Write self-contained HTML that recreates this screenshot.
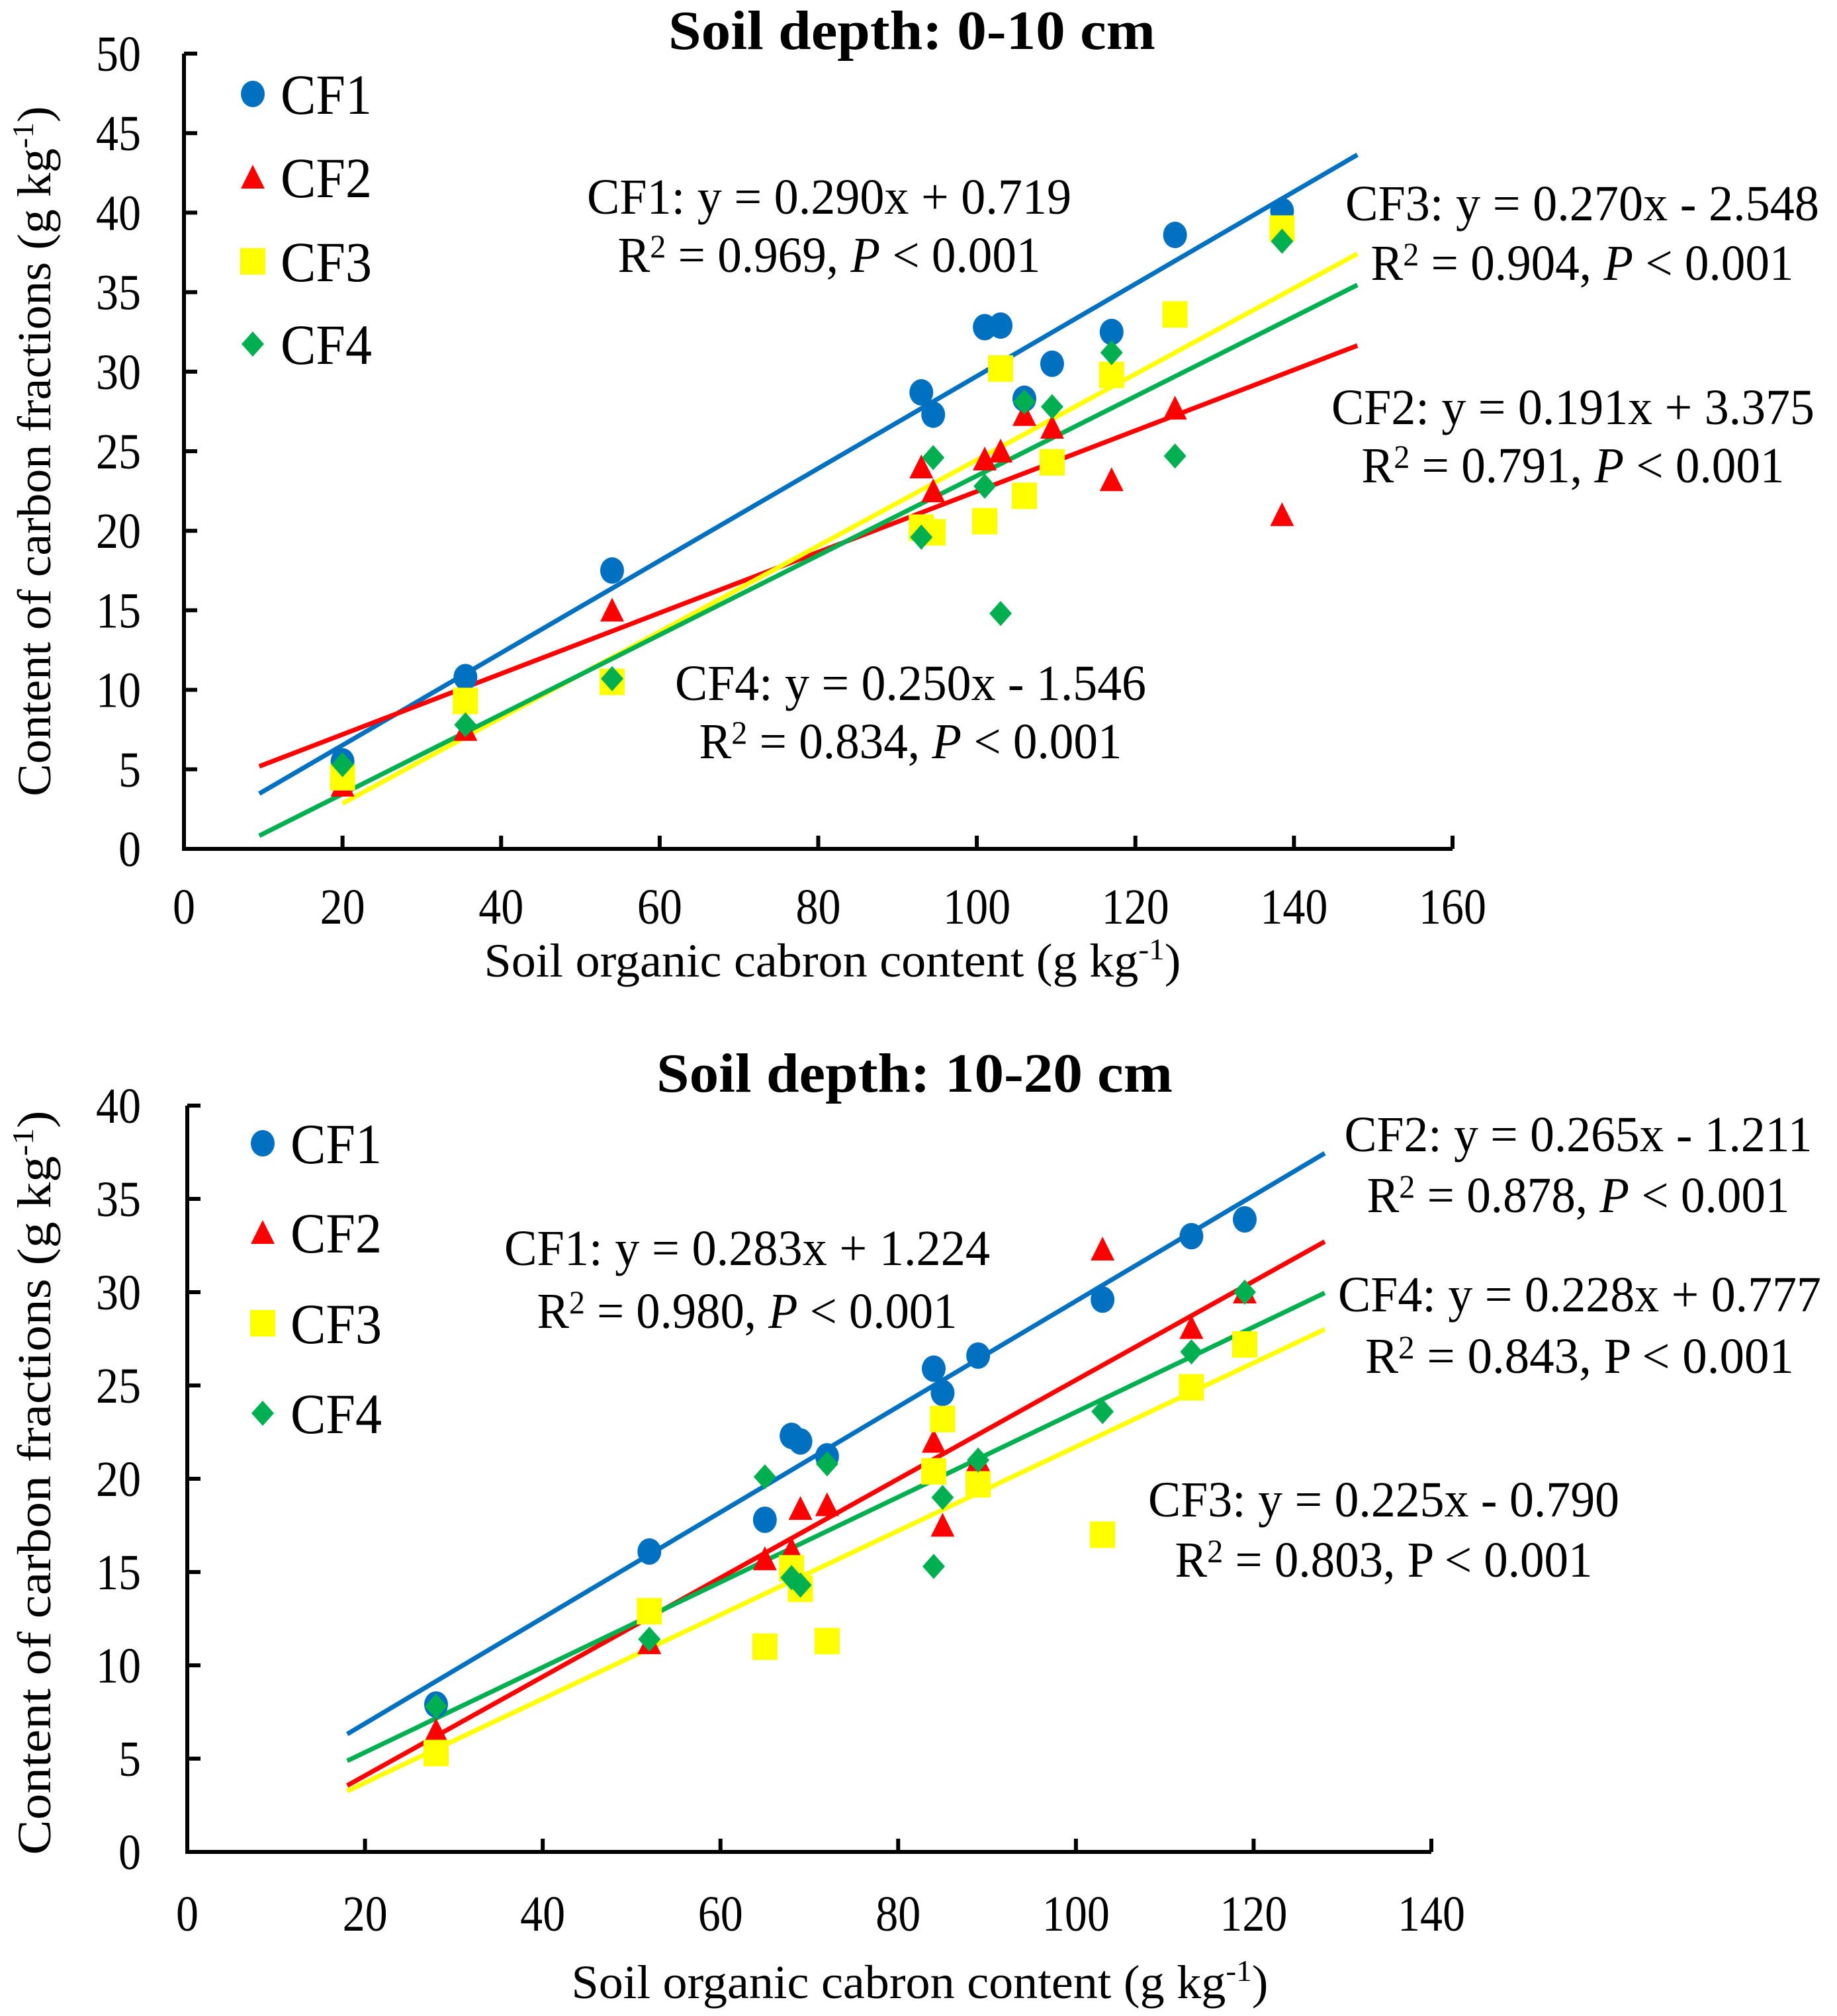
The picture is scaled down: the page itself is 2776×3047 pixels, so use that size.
<!DOCTYPE html>
<html><head><meta charset="utf-8"><style>
html,body{margin:0;padding:0;background:#fff}
svg{display:block;font-family:"Liberation Serif",serif}
</style></head><body>
<svg id="svg" width="2776" height="3047" viewBox="0 0 2776 3047" xmlns="http://www.w3.org/2000/svg"></svg>
<script>
// ---- top panel data (0-10 cm) ----
const topSOC = [20,35.5,54,93,94.5,101,103,106,109.5,117,125,138.5];
const topCF1 = [5.5,10.8,17.5,28.7,27.3,32.8,32.9,28.3,30.5,32.5,38.6,40.1];
const topCF2 = [4,7.5,15,24,22.5,24.5,25,27.3,26.5,23.2,27.7,21];
const topCF3 = [4.5,9.3,10.5,20.2,19.9,20.6,30.2,22.2,24.3,29.8,33.6,39];
const topCF4 = [5.3,7.8,10.7,19.6,24.6,22.8,14.8,28.1,27.8,31.2,24.7,38.2];
const topSlopes = [0.290,0.191,0.270,0.250];
const topIntercepts = [0.719,3.375,-2.548,-1.546];
const topLineFrom = [9.5,9.5,20,9.5];
const topLineTo = [148,148,148,148];
const topXTicks = [0,20,40,60,80,100,120,140,160];
const topYTicks = [0,5,10,15,20,25,30,35,40,45,50];
// ---- bottom panel data (10-20 cm) ----
const botSOC = [28,52,65,68,69,72,84,85,89,103,113,119];
const botCF1 = [7.9,16.1,17.8,22.3,22,21.2,25.9,24.6,26.6,29.6,33,33.9];
const botCF2 = [6.5,11.2,15.7,16.2,18.4,18.6,22,17.5,21,32.3,28.1,30];
const botCF3 = [5.3,12.9,11,15.2,14.1,11.3,20.4,23.2,19.7,17,24.9,27.2];
const botCF4 = [7.8,11.4,20.1,14.7,14.3,20.8,15.3,19,21,23.6,26.8,30];
const botSlopes = [0.283,0.265,0.225,0.228];
const botIntercepts = [1.224,-1.211,-0.790,0.777];
const botLineFrom = [18,18,18,18];
const botLineTo = [128,128,128,128];
const botXTicks = [0,20,40,60,80,100,120,140];
const botYTicks = [0,5,10,15,20,25,30,35,40];

const NS="http://www.w3.org/2000/svg";
const svg=document.getElementById('svg');
const colors=['#0070C0','#FF0000','#FFFF00','#00B050'];
const shapes=['circle','triangle','square','diamond'];
function mk(tag,attrs,parent){const e=document.createElementNS(NS,tag);for(const k in attrs)e.setAttribute(k,attrs[k]);(parent||svg).appendChild(e);return e;}
function txt(str,attrs,parent){const e=mk('text',attrs,parent);e.textContent=str;return e;}
function marker(shape,cx,cy,color,g){
  let e;
  if(shape==='circle'){e=mk('ellipse',{cx:cx,cy:cy,rx:18,ry:20,fill:color},g);}
  else if(shape==='triangle'){e=mk('polygon',{points:`${cx},${cy-19} ${cx+18},${cy+17} ${cx-18},${cy+17}`,fill:color},g);}
  else if(shape==='square'){e=mk('rect',{x:cx-19,y:cy-20,width:38,height:40,fill:color},g);}
  else {e=mk('polygon',{points:`${cx},${cy-19} ${cx+17},${cy} ${cx},${cy+19} ${cx-17},${cy}`,fill:color},g);}
  return e;
}
function panel(cfg){
  const g=mk('g',{});
  
  
  const X=v=>cfg.x0+(v-cfg.xmin)/(cfg.xmax-cfg.xmin)*(cfg.x1-cfg.x0);
  const Y=v=>cfg.y0-(v-cfg.ymin)/(cfg.ymax-cfg.ymin)*(cfg.y0-cfg.y1);
  // axes
  const ax=mk('path',{d:`M${cfg.x0},${cfg.y1} L${cfg.x0},${cfg.y0} L${cfg.x1},${cfg.y0}`,stroke:'#000','stroke-width':6,fill:'none'},g);
  
  
  cfg.yTicks.forEach(t=>{
    const y=Y(t);
    const tk=mk('line',{x1:cfg.x0,x2:cfg.x0+20,y1:y,y2:y,stroke:'#000','stroke-width':6},g);
    
    
    const l=txt(String(t),{x:213,y:y+26,'text-anchor':'end','font-size':76,textLength:34*String(t).length,lengthAdjust:'spacingAndGlyphs'},g);
    
    
  });
  cfg.xTicks.forEach(t=>{
    const x=X(t);
    const tk=mk('line',{x1:x,x2:x,y1:cfg.y0,y2:cfg.y0-20,stroke:'#000','stroke-width':6},g);
    
    
    const l=txt(String(t),{x:x,y:cfg.xLabelY,'text-anchor':'middle','font-size':76,textLength:34*String(t).length,lengthAdjust:'spacingAndGlyphs'},g);
    
    
  });
  // regression lines
  for(let i=0;i<4;i++){
    const a=cfg.from[i],b=cfg.to[i];
    const ln=mk('line',{x1:X(a),y1:Y(cfg.slopes[i]*a+cfg.ints[i]),x2:X(b),y2:Y(cfg.slopes[i]*b+cfg.ints[i]),stroke:colors[i],'stroke-width':7},g);
    
    
  }
  // points
  const order=[0,1,2,3];
  order.forEach(i=>{
    cfg.series[i].forEach((v,j)=>{
      const m=marker(shapes[i],X(cfg.soc[j]),Y(v),colors[i],g);
      
      
    });
  });
  // legend
  for(let i=0;i<4;i++){
    const ly=cfg.legY[i];
    const m=marker(shapes[i],cfg.legX,ly,colors[i],g);
    
    
    const t=txt('CF'+(i+1),{x:cfg.legX+42,y:ly+30,'font-size':86,textLength:138,lengthAdjust:'spacingAndGlyphs'},g);
    
    
  }
  // annotations
  cfg.ann.forEach(a=>{
    const t=mk('text',{x:a[0],y:a[1],'text-anchor':'middle','font-size':76,textLength:a[3],lengthAdjust:'spacingAndGlyphs'},g);
    t.innerHTML=a[2];
    
    
  });
  // title
  const ti=txt(cfg.title,{x:cfg.titleX,y:cfg.titleY,'text-anchor':'middle','font-size':84,'font-weight':'bold',textLength:cfg.titleLen,lengthAdjust:'spacingAndGlyphs'},g);
  
  
  const xt=mk('text',{x:cfg.xtX,y:cfg.xtY,'text-anchor':'middle','font-size':72,textLength:1053,lengthAdjust:'spacingAndGlyphs'},g);
  xt.innerHTML='Soil organic  cabron content (g kg<tspan dy="-26" font-size="46">-1</tspan><tspan dy="26">)</tspan>';
  
  
  const yt=mk('text',{x:0,y:0,'text-anchor':'middle','font-size':72,textLength:cfg.ytLen,lengthAdjust:'spacingAndGlyphs',transform:`translate(${cfg.ytX},${cfg.ytY}) rotate(-90)`},g);
  yt.innerHTML='Content  of  carbon  fractions  (g kg<tspan dy="-26" font-size="46">-1</tspan><tspan dy="26">)</tspan>';
  
  
}
const R2='R<tspan font-size="50" dy="-22">2</tspan><tspan dy="22"> = </tspan>';
panel({name:'chart-0-10cm',x0:278,x1:2195,y0:1283,y1:81,xmin:0,xmax:160,ymin:0,ymax:50,
  xTicks:topXTicks,yTicks:topYTicks,xLabelY:1396,soc:topSOC,series:[topCF1,topCF2,topCF3,topCF4],
  slopes:topSlopes,ints:topIntercepts,from:topLineFrom,to:topLineTo,
  legX:382,legY:[142,268,395,520],
  ann:[[1253,323,'CF1: y = 0.290x  + 0.719',732],[1253,411,R2+'0.969, <tspan font-style="italic">P</tspan> &lt; 0.001',639],
       [2391,333,'CF3: y = 0.270x  - 2.548',716],[2391,423,R2+'0.904, <tspan font-style="italic">P</tspan> &lt; 0.001',639],
       [2377,641,'CF2: y = 0.191x  + 3.375',730],[2377,729,R2+'0.791, <tspan font-style="italic">P</tspan> &lt; 0.001',639],
       [1376,1058,'CF4: y = 0.250x  - 1.546',712],[1376,1146,R2+'0.834, <tspan font-style="italic">P</tspan> &lt; 0.001',639]],
  title:'Soil depth: 0-10 cm',titleX:1378,titleY:74,titleLen:736,xtX:1258,xtY:1476,ytX:76,ytY:682,ytLen:1043});
panel({name:'chart-10-20cm',x0:283,x1:2163,y0:2799,y1:1671,xmin:0,xmax:140,ymin:0,ymax:40,
  xTicks:botXTicks,yTicks:botYTicks,xLabelY:2918,soc:botSOC,series:[botCF1,botCF2,botCF3,botCF4],
  slopes:botSlopes,ints:botIntercepts,from:botLineFrom,to:botLineTo,
  legX:397,legY:[1728,1863,2000,2136],
  ann:[[2385,1740,'CF2: y = 0.265x  - 1.211',707],[2385,1832,R2+'0.878, <tspan font-style="italic">P</tspan> &lt; 0.001',639],
       [1129,1912,'CF1: y = 0.283x + 1.224',734],[1129,2007,R2+'0.980, <tspan font-style="italic">P</tspan> &lt; 0.001',635],
       [2387,1982,'CF4: y = 0.228x  + 0.777',730],[2387,2075,R2+'0.843, P  &lt; 0.001',648],
       [2091,2292,'CF3: y = 0.225x  - 0.790',712],[2091,2383,R2+'0.803, P &lt; 0.001',631]],
  title:'Soil depth: 10-20 cm',titleX:1382,titleY:1650,titleLen:780,xtX:1390,xtY:3020,ytX:76,ytY:2241,ytLen:1125});
</script>
</body></html>
